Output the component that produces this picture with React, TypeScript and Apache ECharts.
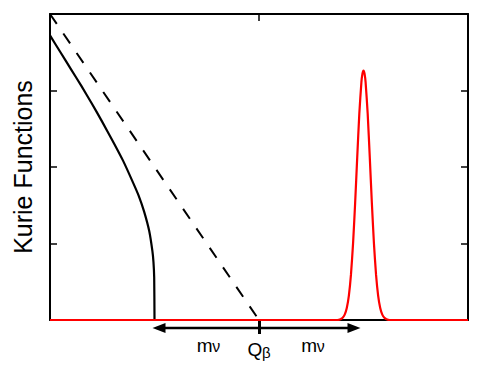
import React, { useEffect, useRef } from "react";
import * as echarts from "echarts";

// Kurie function with massive neutrino (solid), massless (dashed), and the capture peak (red)
const solidX = [0, 0.1, 0.2, 0.3, 0.4, 0.5, 0.6, 0.7, 0.8, 0.85, 0.9, 0.95, 0.98, 0.99, 0.997, 1.0];
const solidY = [3.72, 3.5, 3.28, 3.06, 2.83, 2.59, 2.34, 2.08, 1.78, 1.62, 1.42, 1.16, 0.9, 0.76, 0.56, 0];

const dashedX = [0, 2];
const dashedY = [4, 0];

const redX = [0, 2.75, 2.78, 2.8, 2.82, 2.84, 2.86, 2.88, 2.9, 2.92, 2.94, 2.96, 2.98, 2.99, 3.0, 3.01, 3.02, 3.04, 3.06, 3.08, 3.1, 3.12, 3.14, 3.16, 3.18, 3.2, 3.22, 3.25, 4];
const redY = [0, 0, 0.011, 0.029, 0.07, 0.157, 0.32, 0.593, 0.998, 1.529, 2.129, 2.698, 3.109, 3.22, 3.26, 3.22, 3.109, 2.698, 2.129, 1.529, 0.998, 0.593, 0.32, 0.157, 0.07, 0.029, 0.011, 0, 0];

// annotation positions (data x)
const qBeta = 2;
const massStart = 1;
const massEnd = 3;
const massLabelX = [1.5, 2.5];

const yTitle = "Kurie Functions";
const FONT = '"Liberation Sans", Arial, Helvetica, sans-serif';

const pairs = (xs: number[], ys: number[]) => xs.map((x, i) => [x, ys[i]]);

export default function App() {
  const ref = useRef<HTMLDivElement>(null);
  useEffect(() => {
    if (!ref.current) return;
    const chart = echarts.init(ref.current, undefined, { renderer: "svg" });
    const axisLine = { show: true, onZero: false, lineStyle: { color: "#000", width: 2 } };
    const innerTick = { show: true, inside: true, length: 7, lineStyle: { color: "#000", width: 1.5 } };
    chart.setOption({
      animation: false,
      backgroundColor: "#fff",
      grid: { left: 50, top: 14, right: 30, bottom: 56, containLabel: false, outerBoundsMode: "none" },
      xAxis: [
        {
          type: "value", position: "bottom", min: 0, max: 4, interval: 2,
          axisLine, splitLine: { show: false }, axisLabel: { show: false },
          axisTick: { show: true, inside: false, length: 14, customValues: [qBeta], lineStyle: { color: "#000", width: 3 } },
        },
        {
          type: "value", position: "top", min: 0, max: 4, interval: 2,
          axisLine, splitLine: { show: false }, axisLabel: { show: false }, axisTick: innerTick,
        },
      ],
      yAxis: [
        {
          type: "value", position: "left", min: 0, max: 4, interval: 1,
          axisLine, splitLine: { show: false }, axisLabel: { show: false }, axisTick: innerTick,
        },
        {
          type: "value", position: "right", min: 0, max: 4, interval: 1,
          axisLine, splitLine: { show: false }, axisLabel: { show: false }, axisTick: innerTick,
        },
      ],
      series: [
        {
          type: "line", data: pairs(dashedX, dashedY), showSymbol: false, clip: false,
          lineStyle: { color: "#000", width: 2, type: [12, 11.6] },
        },
        {
          type: "line", data: pairs(solidX, solidY), showSymbol: false, clip: false, smooth: 0.2,
          lineStyle: { color: "#000", width: 2.2 },
        },
        {
          type: "line", data: pairs(redX, redY), showSymbol: false, clip: false, smooth: 0.2, z: 5,
          lineStyle: { color: "#ff0000", width: 2.2 },
        },
      ],
    });

    const px = (x: number, y: number) => chart.convertToPixel({ xAxisIndex: 0, yAxisIndex: 0 }, [x, y]) as number[];
    const [x1, axisY] = px(massStart, 0);
    const [x3] = px(massEnd, 0);
    const [, topY] = px(0, 4);
    const [leftX] = px(0, 0);
    const midY = (axisY + topY) / 2;
    const arrowY = axisY + 8;
    const lTip = x1 - 2;
    const rTip = x3 - 3;
    const headL = 13;
    const headH = 5;

    const graphic: any[] = [
      {
        type: "line",
        shape: { x1: lTip + headL - 1, y1: arrowY, x2: rTip - headL + 1, y2: arrowY },
        style: { stroke: "#000", lineWidth: 2.5 },
        z: 10,
      },
      {
        type: "polygon",
        shape: { points: [[lTip, arrowY], [lTip + headL, arrowY - headH], [lTip + headL, arrowY + headH]] },
        style: { fill: "#000" },
        z: 10,
      },
      {
        type: "polygon",
        shape: { points: [[rTip, arrowY], [rTip - headL, arrowY - headH], [rTip - headL, arrowY + headH]] },
        style: { fill: "#000" },
        z: 10,
      },
      {
        type: "text",
        x: leftX - 27,
        y: midY,
        rotation: Math.PI / 2,
        style: { text: yTitle, font: `25px ${FONT}`, fill: "#000", align: "center", verticalAlign: "middle" },
      },
    ];
    massLabelX.forEach((mx) => {
      const [lx] = px(mx, 0);
      graphic.push({
        type: "text", x: lx - 10, y: axisY + 25,
        style: { text: "m", font: `19px ${FONT}`, fill: "#000", align: "left", verticalAlign: "middle" },
      });
      graphic.push({
        type: "text", x: lx + 5.5, y: axisY + 26.5,
        style: { text: "ν", font: `16px ${FONT}`, fill: "#000", align: "left", verticalAlign: "middle" },
      });
    });
    const [qx] = px(qBeta, 0);
    graphic.push({
      type: "text", x: qx - 11.5, y: axisY + 29,
      style: { text: "Q", font: `19px ${FONT}`, fill: "#000", align: "left", verticalAlign: "middle" },
    });
    graphic.push({
      type: "text", x: qx + 3, y: axisY + 32,
      style: { text: "β", font: `15px ${FONT}`, fill: "#000", align: "left", verticalAlign: "middle" },
    });
    chart.setOption({ graphic });

    return () => chart.dispose();
  }, []);
  return <div ref={ref} style={{ width: 498, height: 376, position: "absolute", left: 0, top: 0 }} />;
}
